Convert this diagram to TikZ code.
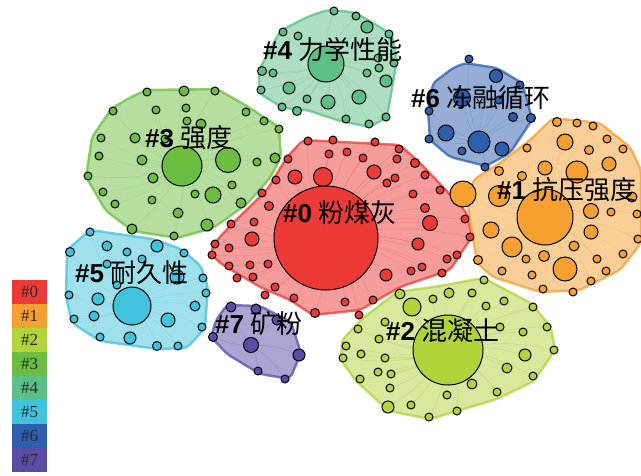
\documentclass[tikz,border=0pt]{standalone}
\usepackage{fontspec}
\setmainfont{Liberation Serif}
\newfontfamily\cjk{Noto Sans CJK SC}
\newfontfamily\labsans{Liberation Sans}
\definecolor{c0}{HTML}{EE3A36}
\definecolor{c1}{HTML}{F5A030}
\definecolor{c2}{HTML}{B3D33A}
\definecolor{c3}{HTML}{6CBE40}
\definecolor{c4}{HTML}{5CBF86}
\definecolor{c5}{HTML}{40C3DD}
\definecolor{c6}{HTML}{2E5FAF}
\definecolor{c7}{HTML}{5B4DA7}
\definecolor{legtxt}{HTML}{2A2A2A}
\tikzset{
  hull/.style={line width=2.4pt, rounded corners=5pt, fill opacity=0.5, draw opacity=0.75, line join=round},
  dot/.style={draw=black, line width=1pt},
  link/.style={line width=0.4pt, opacity=0.25},
  lbl/.style={anchor=west, inner sep=0pt, font=\fontsize{26}{30}\selectfont, text=black},
  legtext/.style={font=\fontsize{17}{19}\selectfont, text=legtxt, inner sep=0pt}
}
\def\redlist{308/141/4, 333/140/4, 375/142/4, 399/149/4, 329/154/4, 347/152/4, 363/158/4, 397/159/4, 415/163/4.5, 288/159/4, 295/177/7, 323/177/9.5, 374/172/7, 387/183/4, 395/178/4, 425/175/4, 276/180/4, 262/193/4, 413/194/4, 440/190/4, 269/206/4.5, 425/208/4.5, 430/223/7.5, 254/222/4, 231/224/4, 465/219/4, 252/239/7, 215/244/4, 229/248/4, 418/244/6, 470/237/4, 212/255/4, 457/255/4, 447/259/4, 229/266/4, 250/265/4, 268/264/4, 422/267/4, 411/271/4, 442/273/4, 386/275/6, 237/278/4, 253/277/4, 275/287/4, 265/295/4, 294/298/4, 345/302/4, 373/300/4, 315/313/4.5, 359/315/4}
\def\orangelist{463/194/13, 499/196/10.5, 577/172/11, 565/142/8, 545/168/7, 609/164/7, 591/211/7.5, 591/232/7, 574/246/5, 512/247/10, 491/230/8, 565/269/12, 544/256/5.5, 526/259/4, 557/122/4.5, 577/123/4, 593/126/4, 527/148/4, 589/150/4.5, 607/139/4, 623/149/4, 499/171/4.5, 522/176/4.5, 611/212/4, 637/214/4, 638/239/4, 623/254/4, 597/259/4, 606/271/4, 591/281/4, 573/292/4, 543/289/4, 532/275/4, 502/271/4, 478/260/4.5, 632/197/5}
\def\bluelist{469/59/4, 496/76/6.5, 520/85/4, 462/98/8.5, 429/111/4, 499/100/4, 513/117/4.5, 531/118/4.5, 446/133/8, 502/149/7, 429/139/4, 462/151/4, 485/167/4}
\def\teallist{334/11/4, 356/16/4, 367/27/6, 283/32/4, 298/36/4, 389/34/4, 378/58/4, 394/63/4, 262/71/4.5, 273/73/4, 367/73/4, 379/68/4, 386/81/6, 261/90/4, 289/88/6, 307/99/4, 328/102/7, 359/97/7, 282/107/4, 297/111/4.5, 346/119/4, 369/124/4, 386/117/4}
\def\greenlist{228/160/12.5, 213/195/8, 147/92/4, 184/91/5, 215/91/4, 113/111/4, 156/110/4, 186/108/4, 246/112/4, 187/121/4, 201/124/5, 264/121/4, 279/129/4, 101/138/4, 135/138/5, 165/139/4, 99/156/4, 142/160/5, 257/162/4, 275/158/5, 88/176/4, 153/178/5, 232/185/4, 103/192/4, 195/194/4, 152/200/4, 115/204/4, 241/203/5, 178/213/5, 132/229/5, 207/225/6, 174/236/4}
\def\cyanlist{90/232/4, 70/252/4.5, 107/246/5, 127/252/4, 157/246/6, 184/253/4, 142/259/4, 107/264/4, 177/277/7, 117/285/4, 203/278/4, 206/293/4, 69/295/4, 98/299/6, 195/306/5, 94/316/5, 74/319/4, 168/320/7, 202/327/4, 100/337/4, 130/338/6, 157/346/4.5, 178/346/4}
\def\purplelist{231/307/5, 256/309/5, 277/320/5, 213/337/4.5, 299/355/6, 258/371/4, 285/379/4}
\def\ygreenlist{484/280/4, 400/294/5, 449/293/5, 472/293/4, 412/307/9, 433/299/4, 504/301/4, 486/306/4, 533/307/4, 385/322/4, 358/329/4, 500/327/4, 547/327/4, 379/339/4, 523/332/4, 346/346/4, 361/354/4, 385/358/4, 525/355/6, 554/350/4, 343/358/4, 507/368/5, 378/372/4, 391/374/4, 360/379/4, 472/384/5, 533/376/4, 390/388/4, 447/395/4, 497/392/4, 388/407/6, 411/405/4, 457/411/4, 429/417/4}
\begin{document}
\begin{tikzpicture}[x=1pt,y=-1pt]
\useasboundingbox (0,0) rectangle (641,475);
\fill[white] (0,0) rectangle (641,475);
% ---------- hulls ----------
\filldraw[hull, draw=c0, fill=c0] (303,140) -- (400,145) -- (420,163) -- (443,187) -- (467,213) -- (472,237) -- (463,250) -- (450,270) -- (400,287) -- (360,310) -- (313,315) -- (290,300) -- (260,287) -- (220,263) -- (210,253) -- (217,240) -- (233,223) -- (267,190) -- (287,157) -- cycle;
\filldraw[hull, draw=c1, fill=c1] (553,118) -- (600,123) -- (630,147) -- (641,170) -- (641,243) -- (620,270) -- (580,290) -- (540,292) -- (493,277) -- (477,263) -- (468,207) -- (473,180) -- (500,163) -- (530,140) -- cycle;
\filldraw[hull, draw=c6, fill=c6] (465,63) -- (497,68) -- (522,83) -- (528,103) -- (532,120) -- (510,153) -- (486,166) -- (450,157) -- (430,140) -- (428,110) -- (433,83) -- (453,68) -- cycle;
\filldraw[hull, draw=c4, fill=c4] (327,10) -- (353,12) -- (372,22) -- (392,35) -- (397,60) -- (390,100) -- (387,117) -- (370,127) -- (340,121) -- (307,110) -- (283,108) -- (259,93) -- (259,70) -- (280,31) -- (307,17) -- cycle;
\filldraw[hull, draw=c3, fill=c3] (147,90) -- (217,89) -- (247,106) -- (279,127) -- (281,157) -- (270,178) -- (247,204) -- (213,228) -- (177,238) -- (133,231) -- (106,211) -- (86,177) -- (92,137) -- (112,108) -- (133,96) -- cycle;
\filldraw[hull, draw=c5, fill=c5] (90,230) -- (153,239) -- (181,249) -- (201,266) -- (208,287) -- (205,328) -- (187,348) -- (157,349) -- (100,341) -- (72,323) -- (66,297) -- (67,250) -- cycle;
\filldraw[hull, draw=c7, fill=c7] (227,305) -- (260,306) -- (291,322) -- (301,353) -- (290,379) -- (260,374) -- (227,354) -- (211,337) -- (216,320) -- cycle;
\filldraw[hull, draw=c2, fill=c2] (483,278) -- (531,303) -- (551,327) -- (555,350) -- (534,381) -- (497,399) -- (447,414) -- (430,419) -- (389,411) -- (356,381) -- (341,360) -- (342,340) -- (362,319) -- (397,292) -- (440,286) -- cycle;
% ---------- links ----------
\foreach \x/\y/\r in \redlist {\draw[link, c0] (326,238) to[bend left=12] (\x,\y);}
\foreach \x/\y/\r in \orangelist {\draw[link, c1] (545,217) to[bend left=12] (\x,\y);}
\foreach \x/\y/\r in \bluelist {\draw[link, c6] (479,142) to[bend left=12] (\x,\y);}
\foreach \x/\y/\r in \teallist {\draw[link, c4!80!black] (326,64) to[bend left=12] (\x,\y);}
\foreach \x/\y/\r in \greenlist {\draw[link, c3] (182,166) to[bend left=12] (\x,\y);}
\foreach \x/\y/\r in \cyanlist {\draw[link, c5] (132,306) to[bend left=12] (\x,\y);}
\foreach \x/\y/\r in \purplelist {\draw[link, c7] (251,345) to[bend left=12] (\x,\y);}
\foreach \x/\y/\r in \ygreenlist {\draw[link, c2!80!black] (448,350) to[bend left=12] (\x,\y);}
% ---------- nodes ----------
\foreach \x/\y/\r in \redlist {\draw[dot, fill=c0] (\x,\y) circle[radius=\r];}
\foreach \x/\y/\r in \orangelist {\draw[dot, fill=c1] (\x,\y) circle[radius=\r];}
\foreach \x/\y/\r in \bluelist {\draw[dot, fill=c6] (\x,\y) circle[radius=\r];}
\foreach \x/\y/\r in \teallist {\draw[dot, fill=c4] (\x,\y) circle[radius=\r];}
\foreach \x/\y/\r in \greenlist {\draw[dot, fill=c3] (\x,\y) circle[radius=\r];}
\foreach \x/\y/\r in \cyanlist {\draw[dot, fill=c5] (\x,\y) circle[radius=\r];}
\foreach \x/\y/\r in \purplelist {\draw[dot, fill=c7] (\x,\y) circle[radius=\r];}
\foreach \x/\y/\r in \ygreenlist {\draw[dot, fill=c2] (\x,\y) circle[radius=\r];}
% hubs
\draw[dot, fill=c0] (326,238) circle[radius=52];
\draw[dot, fill=c1] (545,217) circle[radius=28];
\draw[dot, fill=c6] (479,142) circle[radius=11];
\draw[dot, fill=c4] (326,64) circle[radius=18];
\draw[dot, fill=c3] (182,166) circle[radius=20];
\draw[dot, fill=c5] (132,306) circle[radius=19];
\draw[dot, fill=c7] (251,345) circle[radius=7.5];
\draw[dot, fill=c2] (448,350) circle[radius=35];
% ---------- labels ----------
\node[lbl] (l0) at (283,213) {{\labsans\bfseries\#0} {\cjk 粉煤灰}};
\node[lbl] (l1) at (497,190) {{\labsans\bfseries\#1} {\cjk 抗压强度}};
\node[lbl] (l2) at (386,331) {{\labsans\bfseries\#2} {\cjk 混凝土}};
\node[lbl] (l3) at (145,138) {{\labsans\bfseries\#3} {\cjk 强度}};
\node[lbl] (l4) at (263,50) {{\labsans\bfseries\#4} {\cjk 力学性能}};
\node[lbl] (l5) at (75,273) {{\labsans\bfseries\#5} {\cjk 耐久性}};
\node[lbl] (l6) at (411,98) {{\labsans\bfseries\#6} {\cjk 冻融循环}};
\node[lbl] (l7) at (215,324) {{\labsans\bfseries\#7} {\cjk 矿粉}};
% ---------- legend ----------
\foreach \i/\c in {0/c0,1/c1,2/c2,3/c3,4/c4,5/c5,6/c6,7/c7} {
  \fill[\c] (12,280+24*\i) rectangle (47,304+24*\i);
  \node[legtext] (leg\i) at (29.5,292+24*\i) {\#\i};
}
\end{tikzpicture}
\end{document}
